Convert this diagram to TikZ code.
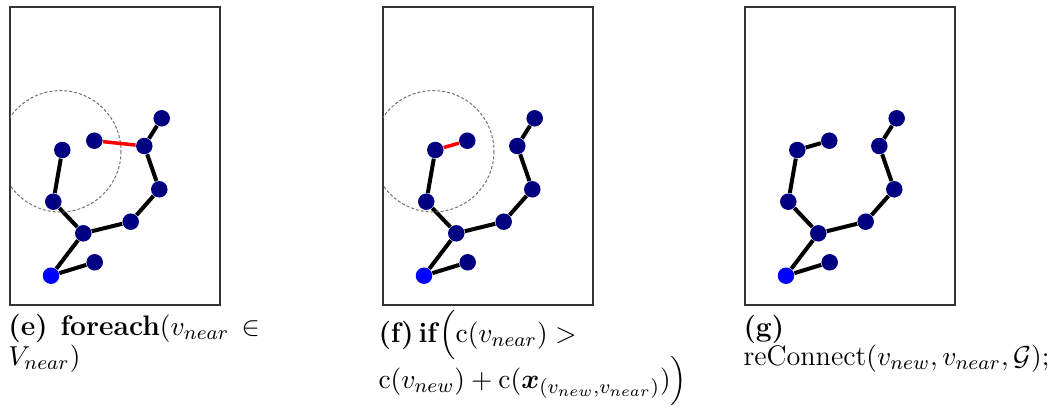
\documentclass[tikz,border=0pt]{standalone}
\usepackage{amsmath,bm}
\usetikzlibrary{backgrounds}
\tikzset{
  nv/.style={circle,fill=navyc,inner sep=0pt,minimum size=6.6pt},
  rootv/.style={circle,fill=blue,inner sep=0pt,minimum size=6.6pt},
  edge/.style={draw=black,line width=1.6pt},
  redge/.style={draw=red,line width=1.4pt},
  panelbox/.style={draw=black!80,line width=0.55pt},
  nearcirc/.style={draw=black!55,line width=0.4pt,dash pattern=on 1.2pt off 0.8pt},
  captxt/.style={anchor=base west,inner sep=0pt,font=\fontsize{11.3}{13.5}\selectfont}
}
\definecolor{navyc}{RGB}{0,0,128}
\newcommand\panelgraph{%
  \node[nv] (A) at (151.7,118.3) {};
  \node[nv] (B) at (134.3,146) {};
  \node[nv] (N) at (84.3,140.7) {};
  \node[nv] (C) at (149.3,189.3) {};
  \node[nv] (D) at (120.7,221.7) {};
  \node[nv] (E) at (73.3,233.3) {};
  \node[nv] (F) at (43.3,201.7) {};
  \node[nv] (G) at (52.3,150) {};
  \node[rootv] (R) at (41,275.7) {};
  \node[nv] (H) at (84.7,262.3) {};
  \coordinate (TL) at (0,7);
  \coordinate (BR) at (210,305);
  \coordinate (O) at (50.3,151.3);
  \begin{pgfonlayer}{background}
    \draw[panelbox] (TL) rectangle (BR);
    \draw[edge] (A) -- (B) -- (C) -- (D) -- (E) -- (F) -- (G);
    \draw[edge] (E) -- (R) -- (H);
  \end{pgfonlayer}
}
\begin{document}
\begin{tikzpicture}[x=0.4pt,y=-0.4pt]
\useasboundingbox (0,0) rectangle (1055,414);
% panel e
\begin{scope}[shift={(10,0)},name prefix=e-]
  \panelgraph
  \begin{pgfonlayer}{background}
    \begin{scope}
      \clip (TL) rectangle (BR);
      \draw[nearcirc] (O) circle[radius=60.7];
    \end{scope}
    \draw[redge] (N) -- (B);
  \end{pgfonlayer}
\end{scope}
% panel f
\begin{scope}[shift={(383,0)},name prefix=f-]
  \panelgraph
  \begin{pgfonlayer}{background}
    \begin{scope}
      \clip (TL) rectangle (BR);
      \draw[nearcirc] (O) circle[radius=60.7];
    \end{scope}
    \draw[redge] (G) -- (N);
  \end{pgfonlayer}
\end{scope}
% panel g
\begin{scope}[shift={(745,0)},name prefix=g-]
  \panelgraph
  \begin{pgfonlayer}{background}
    \draw[edge] (G) -- (N);
  \end{pgfonlayer}
\end{scope}
% captions
\node[captxt] (e1) at (8,335) {\textbf{(e)}};
\node[captxt] (e2) at (60,335) {\textbf{foreach}$(v_{near}$};
\node[captxt] (e3) at (241,335) {$\in$};
\node[captxt] (e4) at (8,365) {$V_{near})$};
\node[captxt] (f1) at (378,342) {\textbf{(f)}};
\node[captxt] (f2) at (418,342) {\textbf{if}$\Big(\mathrm{c}(v_{near}) >$};
\node[captxt] (f3) at (378,388) {$\mathrm{c}(v_{new}) + \mathrm{c}(\bm{x}_{(v_{new},v_{near})})\Big)$};
\node[captxt] (g1) at (743,336) {\textbf{(g)}};
\node[captxt] (g2) at (743,365) {reConnect$(v_{new}, v_{near}, \mathcal{G});$};
\end{tikzpicture}
\end{document}
